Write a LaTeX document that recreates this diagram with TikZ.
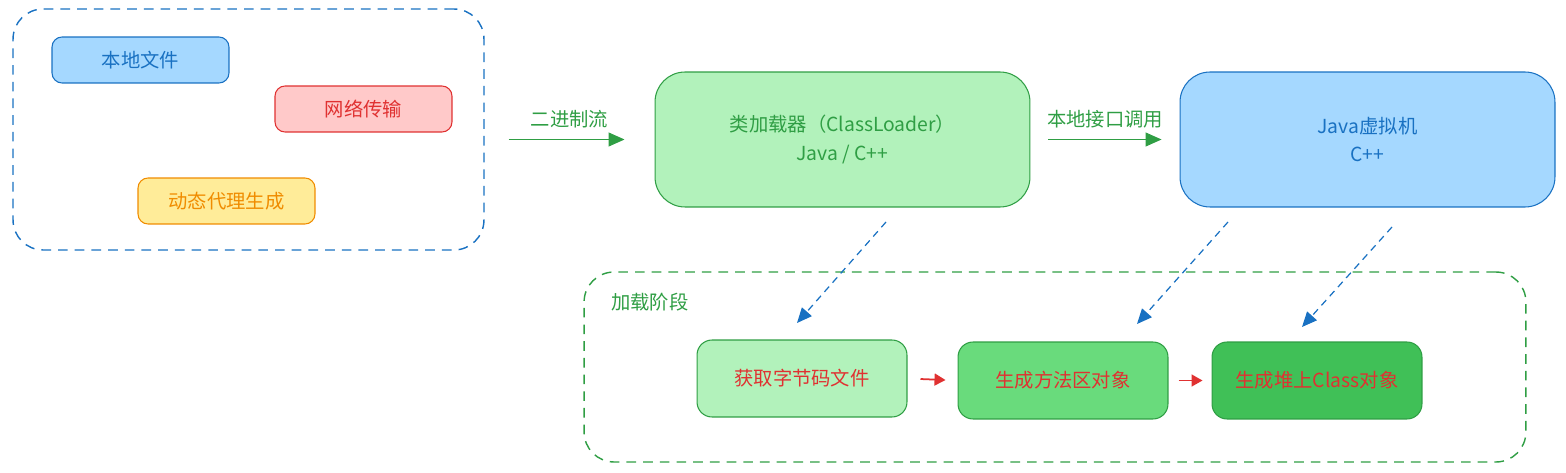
\documentclass[tikz,border=0pt]{standalone}
\usepackage{fontspec}
\setmainfont{Noto Sans CJK SC}
\usepackage{tikz}
\usetikzlibrary{positioning,arrows.meta}

\definecolor{blueline}{HTML}{1971C2}
\definecolor{bluefill}{HTML}{A5D8FF}
\definecolor{redline}{HTML}{E03131}
\definecolor{redfill}{HTML}{FFC9C9}
\definecolor{yellowline}{HTML}{F08C00}
\definecolor{yellowfill}{HTML}{FFEC99}
\definecolor{greenline}{HTML}{2F9E44}
\definecolor{greenfill}{HTML}{B2F2BB}
\definecolor{greenmid}{HTML}{69DB7C}
\definecolor{greendark}{HTML}{40C057}

\begin{document}
\begin{tikzpicture}[x=0.02cm, y=-0.02cm, font=\fontsize{11}{16}\selectfont]
		\tikzstyle{source} = [rectangle, rounded corners=0.2cm, line width=0.6pt, minimum width=3.54cm, minimum height=0.92cm, align=center];
		\tikzstyle{bigbox} = [rectangle, rounded corners=0.6cm, line width=0.6pt, minimum width=7.5cm, minimum height=2.7cm, align=center];
		\tikzstyle{stage} = [rectangle, rounded corners=0.3cm, draw=greenline, line width=0.6pt, text=redline, minimum width=4.2cm, minimum height=1.54cm, align=center];
		\tikzstyle{group} = [rectangle, rounded corners=0.6cm, line width=0.8pt, dash pattern=on 5.5pt off 4pt];
		\tikzstyle{greenflow} = [draw, color=greenline, line width=0.6pt, -{Triangle[length=0.32cm, width=0.28cm]}];
		\tikzstyle{redflow} = [draw, color=redline, line width=1pt, -{Triangle[length=0.22cm, width=0.24cm]}];
		\tikzstyle{blueflow} = [draw, color=blueline, line width=0.7pt, dash pattern=on 4pt off 3pt, -{Triangle[length=0.3cm, width=0.26cm]}];
		\useasboundingbox (0,0) rectangle (1566,473);
		
		\node[group, draw=blueline, minimum width=9.42cm, minimum height=4.82cm](sources) at (248.5,129.5){};
		\node[source, draw=blueline, fill=bluefill, text=blueline](localfile) at (140.5,60){本地文件};
		\node[source, draw=redline, fill=redfill, text=redline](network) at (363.5,109){网络传输};
		\node[source, draw=yellowline, fill=yellowfill, text=yellowline](proxy) at (226.5,201){动态代理生成};
		
		\node[bigbox, draw=greenline, fill=greenfill, text=greenline](loader) at (842.5,139.5){类加载器（ClassLoader）\\Java / C++};
		\node[bigbox, draw=blueline, fill=bluefill, text=blueline](jvm) at (1367.5,139.5){Java虚拟机\\C++};
		
		\node[group, draw=greenline, minimum width=18.84cm, minimum height=3.8cm](loading) at (1055,367){};
		\node[anchor=west, text=greenline](loadinglabel) at (605,302){加载阶段};
		\node[stage, fill=greenfill](fetch) at (802,378.5){获取字节码文件};
		\node[stage, fill=greenmid](method) at (1063,380.5){生成方法区对象};
		\node[stage, fill=greendark](heap) at (1317,380.5){生成堆上Class对象};
		
		\coordinate (s1) at (886,222);
		\coordinate (e1) at (797,323);
		\coordinate (s2) at (1228,222);
		\coordinate (e2) at (1137,324);
		\coordinate (s3) at (1392,227);
		\coordinate (e3) at (1302,327);
		
		\path (sources.east |- loader.west) edge[greenflow, shorten <=0.48cm, shorten >=0.6cm] node[above=3pt]{二进制流} (loader.west)
		(loader.east) edge[greenflow, shorten <=0.36cm, shorten >=0.36cm] node[above=3pt]{本地接口调用} (jvm.west);
		
		\path (fetch.east) edge[redflow, shorten <=0.26cm, shorten >=0.24cm] (method.west)
		(method.east) edge[redflow, shorten <=0.2cm, shorten >=0.18cm] (heap.west);
		
		\path (s1) edge[blueflow] (e1)
		(s2) edge[blueflow] (e2)
		(s3) edge[blueflow] (e3);
\end{tikzpicture}
\end{document}
